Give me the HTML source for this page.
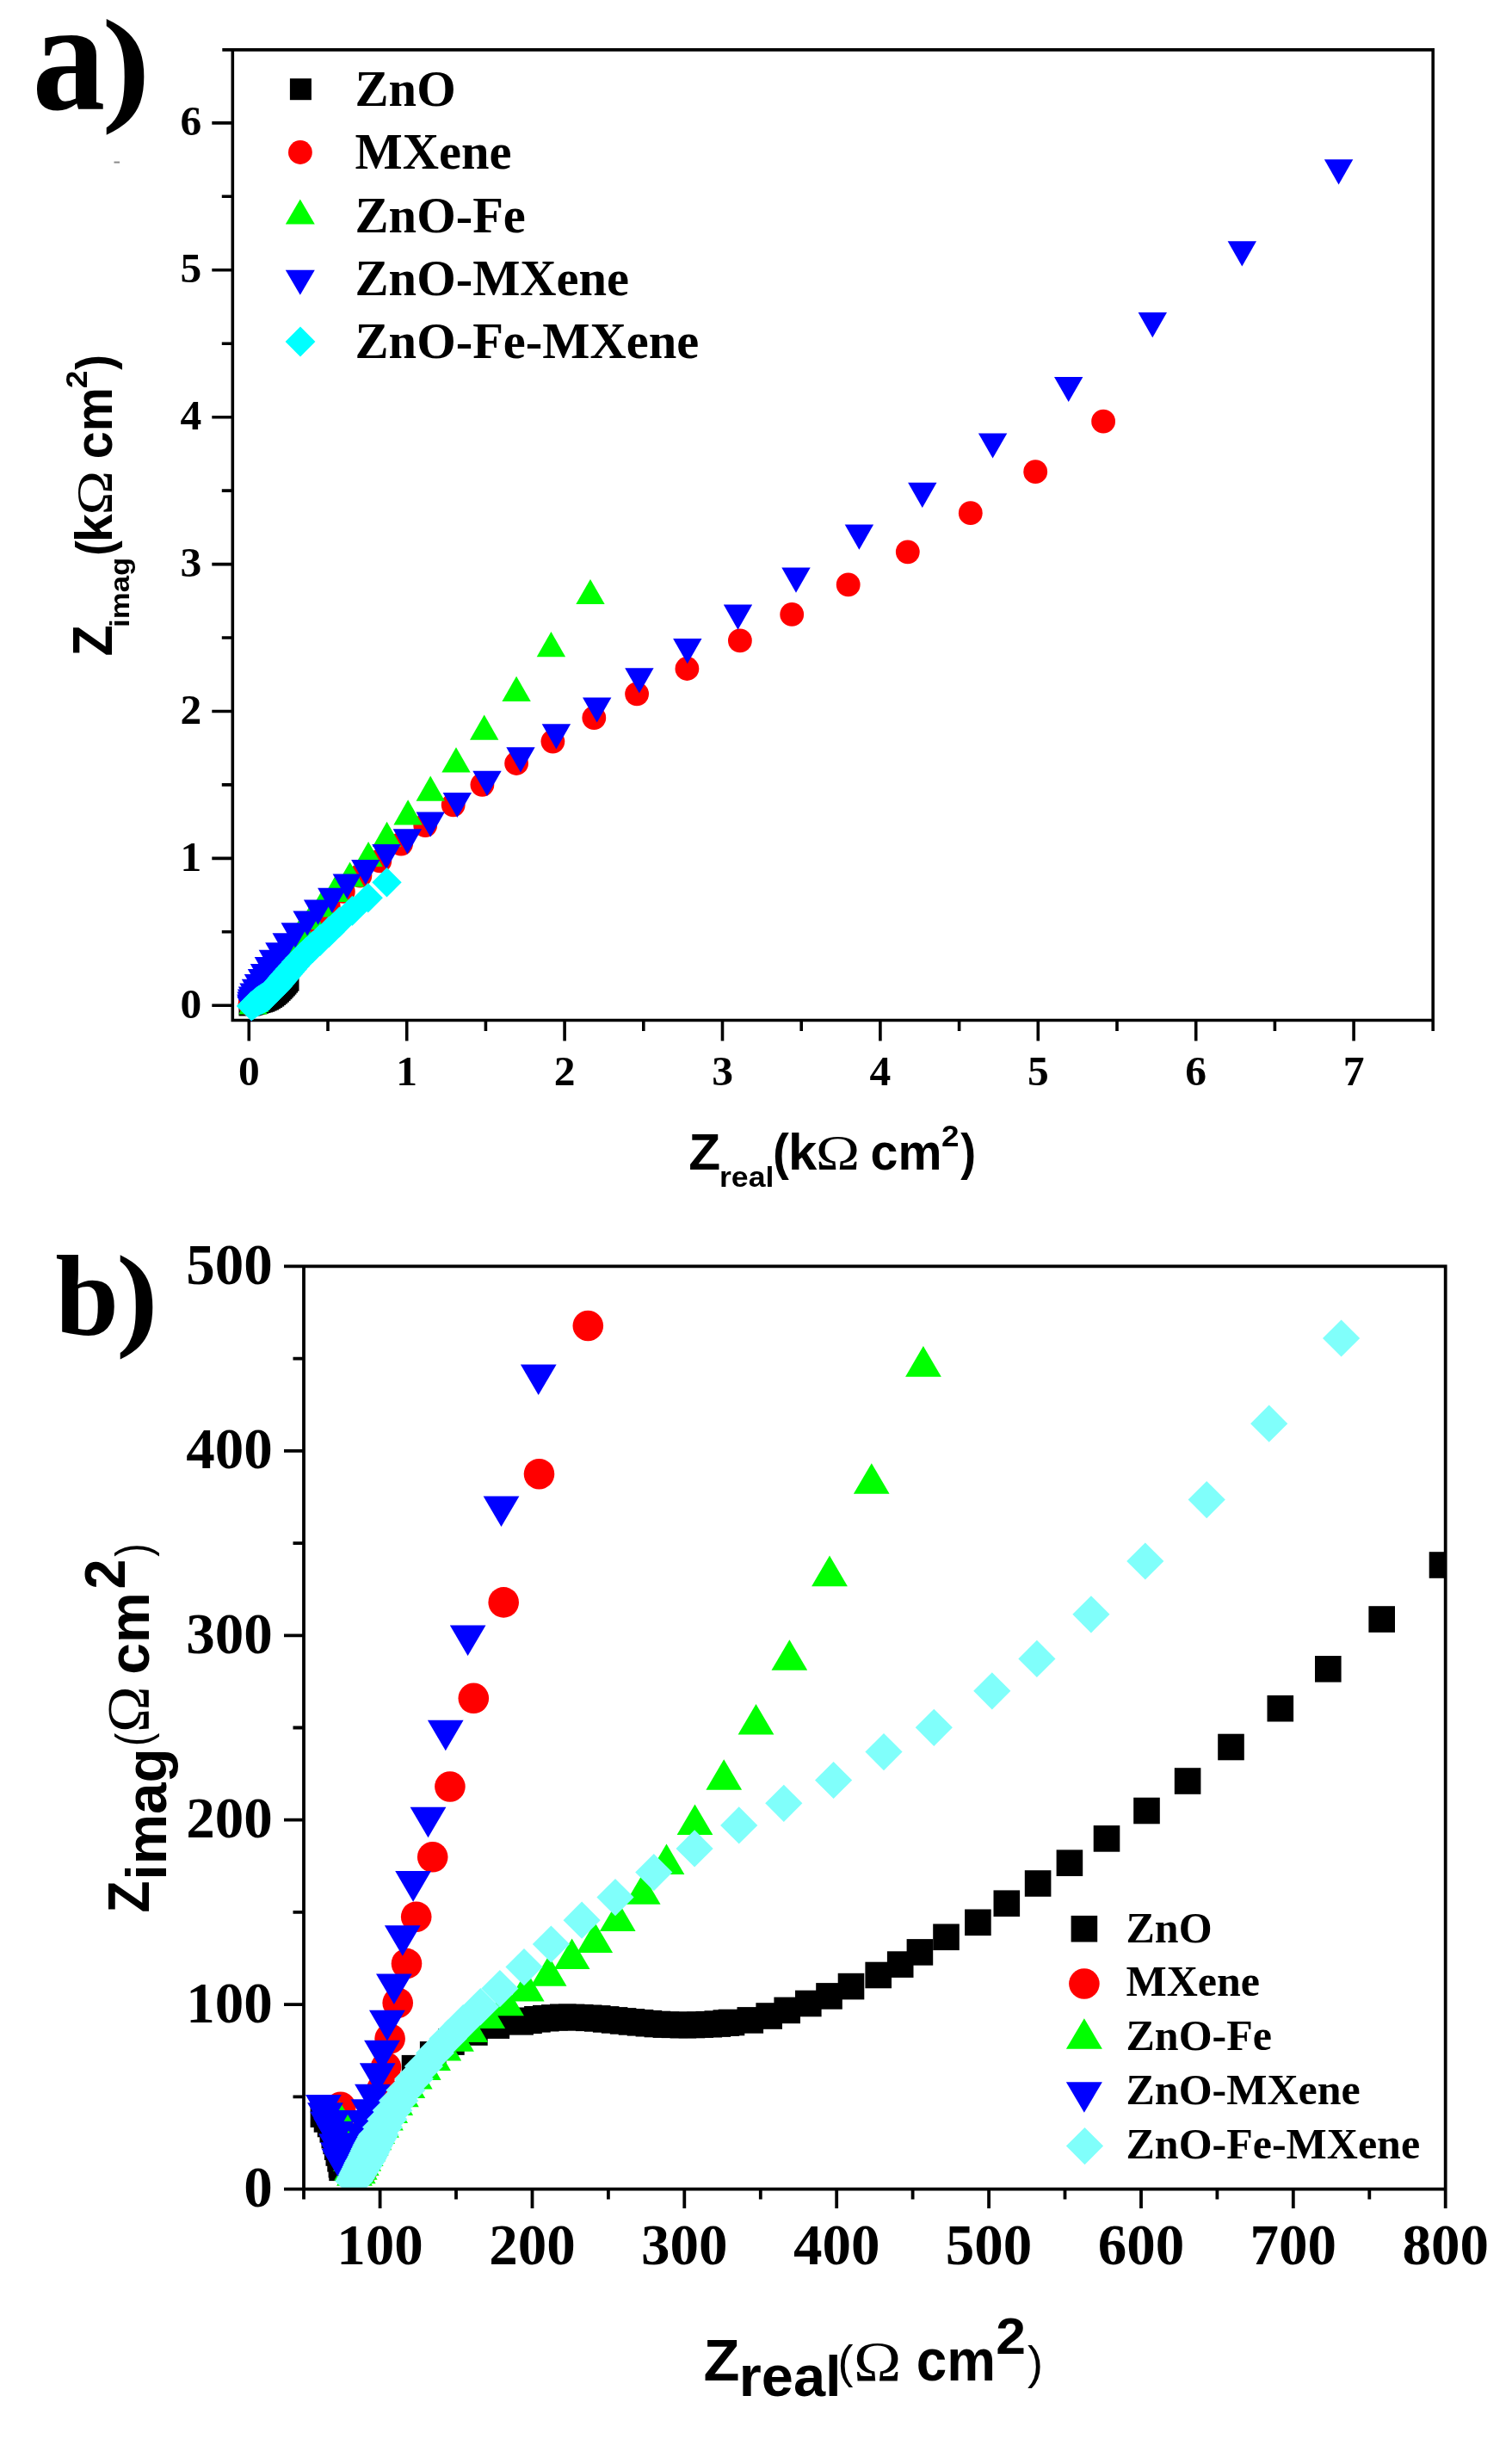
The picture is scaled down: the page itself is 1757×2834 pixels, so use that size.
<!DOCTYPE html>
<html lang="en"><head><meta charset="utf-8"><title>Nyquist plots</title>
<style>html,body{margin:0;padding:0;background:#fff}svg{display:block;filter:blur(0.6px)}text{fill:#000}</style>
</head><body>
<svg width="1757" height="2834" viewBox="0 0 1757 2834">
<rect width="1757" height="2834" fill="#fff"/>
<g id="panelA">
<path d="M258.3 57.9H1667M270.3 57.9V1187.3M268.5 1185.5H1667M1665.2 56.1V1198M246.3 1168.3H270.3M257.8 1082.8H270.3M246.3 997.4H270.3M257.8 911.9H270.3M246.3 826.5H270.3M257.8 741H270.3M246.3 655.6H270.3M257.8 570.1H270.3M246.3 484.7H270.3M257.8 399.2H270.3M246.3 313.8H270.3M257.8 228.3H270.3M246.3 142.9H270.3M289.3 1185.5V1209.5M381 1185.5V1198M472.7 1185.5V1209.5M564.4 1185.5V1198M656.1 1185.5V1209.5M747.8 1185.5V1198M839.5 1185.5V1209.5M931.2 1185.5V1198M1022.9 1185.5V1209.5M1114.6 1185.5V1198M1206.3 1185.5V1209.5M1298 1185.5V1198M1389.7 1185.5V1209.5M1481.4 1185.5V1198M1573.1 1185.5V1209.5" stroke="#000" stroke-width="3.6" fill="none"/>
<clipPath id="clipA"><rect x="268.3" y="57.9" width="1396.9" height="1131.6"/></clipPath>
<g clip-path="url(#clipA)">
<rect x="277.5" y="1155.5" width="25" height="25" fill="#000"/>
<rect x="279.9" y="1154.8" width="25" height="25" fill="#000"/>
<rect x="282.3" y="1154.2" width="25" height="25" fill="#000"/>
<rect x="284.7" y="1153.5" width="25" height="25" fill="#000"/>
<rect x="287.1" y="1152.8" width="25" height="25" fill="#000"/>
<rect x="289.5" y="1152.1" width="25" height="25" fill="#000"/>
<rect x="291.9" y="1151.4" width="25" height="25" fill="#000"/>
<rect x="294.3" y="1150.7" width="25" height="25" fill="#000"/>
<rect x="296.6" y="1149.6" width="25" height="25" fill="#000"/>
<rect x="298.9" y="1148.6" width="25" height="25" fill="#000"/>
<rect x="301" y="1147.3" width="25" height="25" fill="#000"/>
<rect x="303.1" y="1146" width="25" height="25" fill="#000"/>
<rect x="305.2" y="1144.6" width="25" height="25" fill="#000"/>
<rect x="307.1" y="1143" width="25" height="25" fill="#000"/>
<rect x="309.1" y="1141.4" width="25" height="25" fill="#000"/>
<rect x="310.9" y="1139.7" width="25" height="25" fill="#000"/>
<rect x="312.6" y="1137.9" width="25" height="25" fill="#000"/>
<rect x="314.4" y="1136.2" width="25" height="25" fill="#000"/>
<rect x="316.1" y="1134.3" width="25" height="25" fill="#000"/>
<rect x="317.8" y="1132.5" width="25" height="25" fill="#000"/>
<rect x="319.4" y="1130.6" width="25" height="25" fill="#000"/>
<rect x="321" y="1128.6" width="25" height="25" fill="#000"/>
<rect x="322.5" y="1126.7" width="25" height="25" fill="#000"/>
<circle cx="1282.1" cy="489.7" r="13.9" fill="#f00"/>
<circle cx="1203.2" cy="548.2" r="13.9" fill="#f00"/>
<circle cx="1127.8" cy="596.2" r="13.9" fill="#f00"/>
<circle cx="1054.8" cy="641.3" r="13.9" fill="#f00"/>
<circle cx="985.7" cy="679.4" r="13.9" fill="#f00"/>
<circle cx="920.2" cy="713.9" r="13.9" fill="#f00"/>
<circle cx="859.9" cy="744.4" r="13.9" fill="#f00"/>
<circle cx="798.4" cy="777" r="13.9" fill="#f00"/>
<circle cx="740.1" cy="806.3" r="13.9" fill="#f00"/>
<circle cx="690.3" cy="834.1" r="13.9" fill="#f00"/>
<circle cx="642.4" cy="861.6" r="13.9" fill="#f00"/>
<circle cx="600.1" cy="887" r="13.9" fill="#f00"/>
<circle cx="560.4" cy="911.8" r="13.9" fill="#f00"/>
<circle cx="526.7" cy="935.3" r="13.9" fill="#f00"/>
<circle cx="494.2" cy="959.1" r="13.9" fill="#f00"/>
<circle cx="466.1" cy="980.6" r="13.9" fill="#f00"/>
<circle cx="441.3" cy="1000.4" r="13.9" fill="#f00"/>
<circle cx="418.4" cy="1017.6" r="13.9" fill="#f00"/>
<circle cx="398.8" cy="1035.9" r="13.9" fill="#f00"/>
<circle cx="381.7" cy="1052.9" r="13.9" fill="#f00"/>
<circle cx="367.2" cy="1068.2" r="13.9" fill="#f00"/>
<circle cx="353.8" cy="1083.5" r="13.9" fill="#f00"/>
<circle cx="341.7" cy="1098.3" r="13.9" fill="#f00"/>
<circle cx="332.5" cy="1109.8" r="13.9" fill="#f00"/>
<circle cx="324.6" cy="1119.5" r="13.9" fill="#f00"/>
<circle cx="318.4" cy="1127.9" r="13.9" fill="#f00"/>
<circle cx="313.4" cy="1136.1" r="13.9" fill="#f00"/>
<circle cx="309.5" cy="1143" r="13.9" fill="#f00"/>
<circle cx="306" cy="1149" r="13.9" fill="#f00"/>
<circle cx="302.5" cy="1155" r="13.9" fill="#f00"/>
<circle cx="299.8" cy="1160.2" r="13.9" fill="#f00"/>
<circle cx="290.5" cy="1167" r="13.9" fill="#f00"/>
<path d="M686 672.9L702.7 702.1L669.3 702.1Z" fill="#0f0"/>
<path d="M640.4 734L657.1 763.2L623.7 763.2Z" fill="#0f0"/>
<path d="M600.1 785.8L616.8 815L583.4 815Z" fill="#0f0"/>
<path d="M562.7 830.6L579.4 859.8L546 859.8Z" fill="#0f0"/>
<path d="M530 868.3L546.7 897.5L513.3 897.5Z" fill="#0f0"/>
<path d="M500.2 901.5L516.9 930.7L483.5 930.7Z" fill="#0f0"/>
<path d="M474.1 929.3L490.8 958.5L457.4 958.5Z" fill="#0f0"/>
<path d="M449.6 954.8L466.3 984L432.9 984Z" fill="#0f0"/>
<path d="M428.1 977.9L444.8 1007.1L411.4 1007.1Z" fill="#0f0"/>
<path d="M406.6 1001.4L423.3 1030.6L389.9 1030.6Z" fill="#0f0"/>
<path d="M389 1018.8L405.7 1048L372.3 1048Z" fill="#0f0"/>
<path d="M373 1036.4L389.7 1065.6L356.3 1065.6Z" fill="#0f0"/>
<path d="M360.8 1050.9L377.5 1080.1L344.1 1080.1Z" fill="#0f0"/>
<path d="M350.2 1063.9L366.9 1093.1L333.5 1093.1Z" fill="#0f0"/>
<path d="M341.4 1075.7L358.1 1104.9L324.7 1104.9Z" fill="#0f0"/>
<path d="M333.8 1086.2L350.5 1115.4L317.1 1115.4Z" fill="#0f0"/>
<path d="M327.5 1095.7L344.2 1124.9L310.8 1124.9Z" fill="#0f0"/>
<path d="M321.9 1104L338.6 1133.2L305.2 1133.2Z" fill="#0f0"/>
<path d="M317.3 1111.5L334 1140.7L300.6 1140.7Z" fill="#0f0"/>
<path d="M313.3 1118.2L330 1147.4L296.6 1147.4Z" fill="#0f0"/>
<path d="M309.8 1124L326.5 1153.2L293.1 1153.2Z" fill="#0f0"/>
<path d="M306.7 1129.2L323.4 1158.4L290 1158.4Z" fill="#0f0"/>
<path d="M304 1133.7L320.7 1162.9L287.3 1162.9Z" fill="#0f0"/>
<path d="M301.6 1137.7L318.3 1166.9L284.9 1166.9Z" fill="#0f0"/>
<path d="M299.5 1141.2L316.2 1170.4L282.8 1170.4Z" fill="#0f0"/>
<path d="M297.5 1144.2L314.2 1173.4L280.8 1173.4Z" fill="#0f0"/>
<path d="M295.7 1146.9L312.4 1176.1L279 1176.1Z" fill="#0f0"/>
<path d="M294 1149.4L310.7 1178.6L277.3 1178.6Z" fill="#0f0"/>
<path d="M1538.9 185.2L1572.3 185.2L1555.6 214.4Z" fill="#00f"/>
<path d="M1426.6 280.2L1460 280.2L1443.3 309.4Z" fill="#00f"/>
<path d="M1322.6 363L1356 363L1339.3 392.2Z" fill="#00f"/>
<path d="M1225 437.9L1258.4 437.9L1241.7 467.1Z" fill="#00f"/>
<path d="M1136.9 503.4L1170.3 503.4L1153.6 532.6Z" fill="#00f"/>
<path d="M1055.1 560.8L1088.5 560.8L1071.8 590Z" fill="#00f"/>
<path d="M981.7 609.6L1015.1 609.6L998.4 638.8Z" fill="#00f"/>
<path d="M908.3 659.6L941.7 659.6L925 688.8Z" fill="#00f"/>
<path d="M840.8 702.5L874.2 702.5L857.5 731.7Z" fill="#00f"/>
<path d="M782.1 742L815.5 742L798.8 771.2Z" fill="#00f"/>
<path d="M726.2 776.3L759.6 776.3L742.9 805.5Z" fill="#00f"/>
<path d="M677 810.4L710.4 810.4L693.7 839.6Z" fill="#00f"/>
<path d="M629.7 841.2L663.1 841.2L646.4 870.4Z" fill="#00f"/>
<path d="M588.3 868.3L621.7 868.3L605 897.5Z" fill="#00f"/>
<path d="M549.3 895.7L582.7 895.7L566 924.9Z" fill="#00f"/>
<path d="M514.6 920.9L548 920.9L531.3 950.1Z" fill="#00f"/>
<path d="M483.5 943.4L516.9 943.4L500.2 972.6Z" fill="#00f"/>
<path d="M456.7 963.2L490.1 963.2L473.4 992.4Z" fill="#00f"/>
<path d="M432.3 980.9L465.7 980.9L449 1010.1Z" fill="#00f"/>
<path d="M408.1 999.1L441.5 999.1L424.8 1028.3Z" fill="#00f"/>
<path d="M386.6 1015.4L420 1015.4L403.3 1044.6Z" fill="#00f"/>
<path d="M369.1 1031.7L402.5 1031.7L385.8 1060.9Z" fill="#00f"/>
<path d="M352.9 1045.6L386.3 1045.6L369.6 1074.8Z" fill="#00f"/>
<path d="M340.4 1058.4L373.8 1058.4L357.1 1087.6Z" fill="#00f"/>
<path d="M326.5 1072.3L359.9 1072.3L343.2 1101.5Z" fill="#00f"/>
<path d="M316.5 1084.2L349.9 1084.2L333.2 1113.4Z" fill="#00f"/>
<path d="M308.2 1095.2L341.6 1095.2L324.9 1124.4Z" fill="#00f"/>
<path d="M300.7 1103.7L334.1 1103.7L317.4 1132.9Z" fill="#00f"/>
<path d="M295.7 1112L329.1 1112L312.4 1141.2Z" fill="#00f"/>
<path d="M290.8 1120L324.2 1120L307.5 1149.2Z" fill="#00f"/>
<path d="M287.8 1125.9L321.2 1125.9L304.5 1155.1Z" fill="#00f"/>
<path d="M283.8 1131.9L317.2 1131.9L300.5 1161.1Z" fill="#00f"/>
<path d="M280.8 1137.8L314.2 1137.8L297.5 1167Z" fill="#00f"/>
<path d="M278.3 1142.4L311.7 1142.4L295 1171.6Z" fill="#00f"/>
<path d="M276.8 1146.4L310.2 1146.4L293.5 1175.6Z" fill="#00f"/>
<path d="M275.8 1149.4L309.2 1149.4L292.5 1178.6Z" fill="#00f"/>
<path d="M275.3 1152.4L308.7 1152.4L292 1181.6Z" fill="#00f"/>
<path d="M275.1 1155.4L308.5 1155.4L291.8 1184.6Z" fill="#00f"/>
<path d="M275.3 1157.8L308.7 1157.8L292 1187Z" fill="#00f"/>
<path d="M449.5 1008.1L466.7 1025.3L449.5 1042.5L432.3 1025.3Z" fill="#0ff"/>
<path d="M427.7 1026L444.9 1043.2L427.7 1060.4L410.5 1043.2Z" fill="#0ff"/>
<path d="M409.4 1040.7L427 1058.2L409.4 1075.8L391.9 1058.2Z" fill="#0ff"/>
<path d="M394.4 1053.4L412.3 1071.3L394.4 1089.2L376.5 1071.3Z" fill="#0ff"/>
<path d="M382.3 1064.6L400.6 1082.9L382.3 1101.1L364.1 1082.9Z" fill="#0ff"/>
<path d="M372 1073.7L390.6 1092.3L372 1110.9L353.4 1092.3Z" fill="#0ff"/>
<path d="M363.3 1081.7L381.9 1100.3L363.3 1118.9L344.7 1100.3Z" fill="#0ff"/>
<path d="M356.1 1088.5L374.7 1107.1L356.1 1125.7L337.5 1107.1Z" fill="#0ff"/>
<path d="M350.1 1094.3L368.7 1112.9L350.1 1131.5L331.5 1112.9Z" fill="#0ff"/>
<path d="M345.4 1099.4L364 1118L345.4 1136.6L326.8 1118Z" fill="#0ff"/>
<path d="M341.5 1103.8L360.1 1122.4L341.5 1141L322.9 1122.4Z" fill="#0ff"/>
<path d="M338.2 1107.6L356.8 1126.2L338.2 1144.8L319.6 1126.2Z" fill="#0ff"/>
<path d="M335.5 1110.7L354.1 1129.3L335.5 1147.9L316.9 1129.3Z" fill="#0ff"/>
<path d="M333.2 1113.3L351.8 1131.9L333.2 1150.5L314.6 1131.9Z" fill="#0ff"/>
<path d="M331.3 1115.5L349.9 1134.1L331.3 1152.7L312.7 1134.1Z" fill="#0ff"/>
<path d="M329.9 1117.2L348.5 1135.8L329.9 1154.4L311.3 1135.8Z" fill="#0ff"/>
<path d="M328.5 1118.9L347.1 1137.5L328.5 1156.1L309.9 1137.5Z" fill="#0ff"/>
<path d="M327.1 1120.6L345.7 1139.2L327.1 1157.8L308.5 1139.2Z" fill="#0ff"/>
<path d="M325.6 1122.2L344.2 1140.8L325.6 1159.4L307 1140.8Z" fill="#0ff"/>
<path d="M324.2 1123.9L342.8 1142.5L324.2 1161.1L305.6 1142.5Z" fill="#0ff"/>
<path d="M322.8 1125.6L341.4 1144.2L322.8 1162.8L304.2 1144.2Z" fill="#0ff"/>
<path d="M321.4 1127.3L340 1145.9L321.4 1164.5L302.8 1145.9Z" fill="#0ff"/>
<path d="M319.9 1128.9L338.5 1147.5L319.9 1166.1L301.3 1147.5Z" fill="#0ff"/>
<path d="M318.4 1130.5L337 1149.1L318.4 1167.7L299.8 1149.1Z" fill="#0ff"/>
<path d="M316.9 1132.1L335.5 1150.7L316.9 1169.3L298.3 1150.7Z" fill="#0ff"/>
<path d="M315.3 1133.6L333.9 1152.2L315.3 1170.8L296.7 1152.2Z" fill="#0ff"/>
<path d="M313.8 1135.2L332.4 1153.8L313.8 1172.4L295.2 1153.8Z" fill="#0ff"/>
<path d="M312.2 1136.7L330.8 1155.3L312.2 1173.9L293.6 1155.3Z" fill="#0ff"/>
<path d="M310.6 1138.4L329.1 1156.9L310.6 1175.4L292.1 1156.9Z" fill="#0ff"/>
<path d="M308.8 1139.7L327.2 1158.1L308.8 1176.5L290.4 1158.1Z" fill="#0ff"/>
<path d="M306.9 1140.9L325.2 1159.2L306.9 1177.5L288.6 1159.2Z" fill="#0ff"/>
<path d="M305 1142.1L323.1 1160.3L305 1178.4L286.8 1160.3Z" fill="#0ff"/>
<path d="M303.1 1143.3L321.1 1161.3L303.1 1179.4L285 1161.3Z" fill="#0ff"/>
<path d="M301.1 1144.5L319.1 1162.4L301.1 1180.3L283.2 1162.4Z" fill="#0ff"/>
<path d="M299.3 1145.8L317.1 1163.6L299.3 1181.4L281.5 1163.6Z" fill="#0ff"/>
<path d="M297.5 1147.2L315.2 1164.9L297.5 1182.6L279.9 1164.9Z" fill="#0ff"/>
<path d="M295.8 1148.7L313.4 1166.3L295.8 1183.8L278.3 1166.3Z" fill="#0ff"/>
<path d="M294.1 1150.2L311.5 1167.6L294.1 1185.1L276.6 1167.6Z" fill="#0ff"/>
<path d="M292.3 1151.6L309.7 1169L292.3 1186.3L275 1169Z" fill="#0ff"/>
<path d="M292.3 1151.8L309.5 1169L292.3 1186.2L275.1 1169Z" fill="#0ff"/>
</g>
<g font-family="'Liberation Serif','DejaVu Serif',serif" font-weight="bold" font-size="49.5">
<text x="234.3" y="1182.5" text-anchor="end">0</text>
<text x="234.3" y="1011.6" text-anchor="end">1</text>
<text x="234.3" y="840.7" text-anchor="end">2</text>
<text x="234.3" y="669.8" text-anchor="end">3</text>
<text x="234.3" y="498.9" text-anchor="end">4</text>
<text x="234.3" y="328" text-anchor="end">5</text>
<text x="234.3" y="157.1" text-anchor="end">6</text>
<text x="289.3" y="1260.7" text-anchor="middle">0</text>
<text x="472.7" y="1260.7" text-anchor="middle">1</text>
<text x="656.1" y="1260.7" text-anchor="middle">2</text>
<text x="839.5" y="1260.7" text-anchor="middle">3</text>
<text x="1022.9" y="1260.7" text-anchor="middle">4</text>
<text x="1206.3" y="1260.7" text-anchor="middle">5</text>
<text x="1389.7" y="1260.7" text-anchor="middle">6</text>
<text x="1573.1" y="1260.7" text-anchor="middle">7</text>
</g>
<rect x="336.9" y="91.2" width="25" height="25" fill="#000"/>
<circle cx="348.9" cy="177" r="13.9" fill="#f00"/>
<path d="M348.8 231.5L365.8 260.5L331.8 260.5Z" fill="#0f0"/>
<path d="M331.8 313.7L365.8 313.7L348.8 342.7Z" fill="#00f"/>
<path d="M349 379.6L366.4 397L349 414.4L331.6 397Z" fill="#0ff"/>
<g font-family="'Liberation Serif','DejaVu Serif',serif" font-weight="bold" font-size="58.5">
<text x="412.6" y="122.7">ZnO</text>
<text x="412.6" y="196.1">MXene</text>
<text x="412.6" y="269.5">ZnO-Fe</text>
<text x="412.6" y="342.9">ZnO-MXene</text>
<text x="412.6" y="415.7">ZnO-Fe-MXene</text>
</g>
<text x="37.59" y="126.60" font-family="'Liberation Serif','DejaVu Serif',serif" font-weight="bold" font-size="182" textLength="84.75" lengthAdjust="spacingAndGlyphs">a</text>
<text x="118.28" y="125.20" font-family="'Liberation Serif','DejaVu Serif',serif" font-weight="bold" font-size="148.7" textLength="56.51" lengthAdjust="spacingAndGlyphs">)</text>
<rect x="132.5" y="187.6" width="6.5" height="2" fill="#8a8a8a"/>
<text x="800.29" y="1359.10" font-family="'Liberation Sans','DejaVu Sans',sans-serif" font-weight="bold" font-size="60" textLength="36.93" lengthAdjust="spacingAndGlyphs">Z</text>
<text x="835.98" y="1379.20" font-family="'Liberation Sans','DejaVu Sans',sans-serif" font-weight="bold" font-size="33" textLength="63.39" lengthAdjust="spacingAndGlyphs">real</text>
<text x="898.07" y="1359.30" font-family="'Liberation Sans','DejaVu Sans',sans-serif" font-weight="bold" font-size="60" textLength="18.86" lengthAdjust="spacingAndGlyphs">(</text>
<text x="916.11" y="1359.10" font-family="'Liberation Sans','DejaVu Sans',sans-serif" font-weight="bold" font-size="60" textLength="33.31" lengthAdjust="spacingAndGlyphs">k</text>
<text x="947.99" y="1359.10" font-family="'Liberation Serif','DejaVu Serif',serif" font-weight="normal" font-size="57" textLength="51.09" lengthAdjust="spacingAndGlyphs">Ω</text>
<text x="1011.51" y="1359.10" font-family="'Liberation Sans','DejaVu Sans',sans-serif" font-weight="bold" font-size="60" textLength="82.90" lengthAdjust="spacingAndGlyphs">cm</text>
<text x="1094.01" y="1331.50" font-family="'Liberation Sans','DejaVu Sans',sans-serif" font-weight="bold" font-size="34.5" textLength="20.52" lengthAdjust="spacingAndGlyphs">2</text>
<text x="1116.17" y="1359.30" font-family="'Liberation Sans','DejaVu Sans',sans-serif" font-weight="bold" font-size="60" textLength="17.84" lengthAdjust="spacingAndGlyphs">)</text>
<text transform="rotate(-90)" x="-762.58" y="130.10" font-family="'Liberation Sans','DejaVu Sans',sans-serif" font-weight="bold" font-size="64" textLength="36.26" lengthAdjust="spacingAndGlyphs">Z</text>
<text transform="rotate(-90)" x="-728.93" y="149.60" font-family="'Liberation Sans','DejaVu Sans',sans-serif" font-weight="bold" font-size="32" textLength="81.15" lengthAdjust="spacingAndGlyphs">imag</text>
<text transform="rotate(-90)" x="-645.72" y="129.80" font-family="'Liberation Sans','DejaVu Sans',sans-serif" font-weight="bold" font-size="60" textLength="17.45" lengthAdjust="spacingAndGlyphs">(</text>
<text transform="rotate(-90)" x="-630.15" y="130.10" font-family="'Liberation Sans','DejaVu Sans',sans-serif" font-weight="bold" font-size="62" textLength="32.97" lengthAdjust="spacingAndGlyphs">k</text>
<text transform="rotate(-90)" x="-598.44" y="130.10" font-family="'Liberation Serif','DejaVu Serif',serif" font-weight="normal" font-size="60" textLength="51.56" lengthAdjust="spacingAndGlyphs">Ω</text>
<text transform="rotate(-90)" x="-533.20" y="130.10" font-family="'Liberation Sans','DejaVu Sans',sans-serif" font-weight="bold" font-size="62" textLength="83.01" lengthAdjust="spacingAndGlyphs">cm</text>
<text transform="rotate(-90)" x="-451.21" y="101.30" font-family="'Liberation Sans','DejaVu Sans',sans-serif" font-weight="bold" font-size="35.5" textLength="20.75" lengthAdjust="spacingAndGlyphs">2</text>
<text transform="rotate(-90)" x="-429.73" y="129.80" font-family="'Liberation Sans','DejaVu Sans',sans-serif" font-weight="bold" font-size="60" textLength="17.60" lengthAdjust="spacingAndGlyphs">)</text>
</g>
<g id="panelB">
<clipPath id="clipB"><rect x="353" y="1471.4" width="1326.7" height="1072.2"/></clipPath>
<g clip-path="url(#clipB)">
<rect x="360.6" y="2441.4" width="30.6" height="30.6" fill="#000"/>
<rect x="364.7" y="2447.1" width="30.6" height="30.6" fill="#000"/>
<rect x="368.8" y="2452.7" width="30.6" height="30.6" fill="#000"/>
<rect x="371.5" y="2459.1" width="30.6" height="30.6" fill="#000"/>
<rect x="373.5" y="2465.8" width="30.6" height="30.6" fill="#000"/>
<rect x="375.4" y="2472.6" width="30.6" height="30.6" fill="#000"/>
<rect x="376.9" y="2479.4" width="30.6" height="30.6" fill="#000"/>
<rect x="378.5" y="2486.2" width="30.6" height="30.6" fill="#000"/>
<rect x="380.3" y="2493" width="30.6" height="30.6" fill="#000"/>
<rect x="381.6" y="2499.9" width="30.6" height="30.6" fill="#000"/>
<rect x="382.3" y="2503.5" width="30.6" height="30.6" fill="#000"/>
<rect x="466.7" y="2387.9" width="30.6" height="30.6" fill="#000"/>
<rect x="487.9" y="2372" width="30.6" height="30.6" fill="#000"/>
<rect x="509.1" y="2357.3" width="30.6" height="30.6" fill="#000"/>
<rect x="536.1" y="2346.2" width="30.6" height="30.6" fill="#000"/>
<rect x="561.5" y="2338.3" width="30.6" height="30.6" fill="#000"/>
<rect x="589.3" y="2334" width="30.6" height="30.6" fill="#000"/>
<rect x="599.2" y="2332.5" width="30.6" height="30.6" fill="#000"/>
<rect x="609.1" y="2331" width="30.6" height="30.6" fill="#000"/>
<rect x="619" y="2329.9" width="30.6" height="30.6" fill="#000"/>
<rect x="629" y="2329.2" width="30.6" height="30.6" fill="#000"/>
<rect x="639" y="2328.5" width="30.6" height="30.6" fill="#000"/>
<rect x="648.9" y="2328.6" width="30.6" height="30.6" fill="#000"/>
<rect x="658.9" y="2329" width="30.6" height="30.6" fill="#000"/>
<rect x="668.9" y="2329.5" width="30.6" height="30.6" fill="#000"/>
<rect x="678.9" y="2330.1" width="30.6" height="30.6" fill="#000"/>
<rect x="688.9" y="2331.1" width="30.6" height="30.6" fill="#000"/>
<rect x="698.8" y="2332.1" width="30.6" height="30.6" fill="#000"/>
<rect x="708.8" y="2333.1" width="30.6" height="30.6" fill="#000"/>
<rect x="718.7" y="2334.1" width="30.6" height="30.6" fill="#000"/>
<rect x="728.7" y="2335" width="30.6" height="30.6" fill="#000"/>
<rect x="738.6" y="2335.9" width="30.6" height="30.6" fill="#000"/>
<rect x="748.6" y="2336.7" width="30.6" height="30.6" fill="#000"/>
<rect x="758.6" y="2337.3" width="30.6" height="30.6" fill="#000"/>
<rect x="768.6" y="2337.5" width="30.6" height="30.6" fill="#000"/>
<rect x="778.6" y="2337.8" width="30.6" height="30.6" fill="#000"/>
<rect x="788.6" y="2337.7" width="30.6" height="30.6" fill="#000"/>
<rect x="798.5" y="2337.3" width="30.6" height="30.6" fill="#000"/>
<rect x="808.5" y="2336.9" width="30.6" height="30.6" fill="#000"/>
<rect x="818.5" y="2336.3" width="30.6" height="30.6" fill="#000"/>
<rect x="828.5" y="2335.3" width="30.6" height="30.6" fill="#000"/>
<rect x="834.7" y="2334.7" width="30.6" height="30.6" fill="#000"/>
<rect x="856.5" y="2332.1" width="30.6" height="30.6" fill="#000"/>
<rect x="878.4" y="2327.2" width="30.6" height="30.6" fill="#000"/>
<rect x="899.4" y="2320.6" width="30.6" height="30.6" fill="#000"/>
<rect x="924" y="2312.7" width="30.6" height="30.6" fill="#000"/>
<rect x="948.2" y="2304.1" width="30.6" height="30.6" fill="#000"/>
<rect x="973.7" y="2292.8" width="30.6" height="30.6" fill="#000"/>
<rect x="1005.4" y="2279.7" width="30.6" height="30.6" fill="#000"/>
<rect x="1030.9" y="2267.3" width="30.6" height="30.6" fill="#000"/>
<rect x="1053.6" y="2253.1" width="30.6" height="30.6" fill="#000"/>
<rect x="1084.2" y="2235.5" width="30.6" height="30.6" fill="#000"/>
<rect x="1121.1" y="2218.5" width="30.6" height="30.6" fill="#000"/>
<rect x="1154.5" y="2196.4" width="30.6" height="30.6" fill="#000"/>
<rect x="1190.8" y="2173.2" width="30.6" height="30.6" fill="#000"/>
<rect x="1227.6" y="2149.4" width="30.6" height="30.6" fill="#000"/>
<rect x="1270.7" y="2121.1" width="30.6" height="30.6" fill="#000"/>
<rect x="1317.2" y="2088.7" width="30.6" height="30.6" fill="#000"/>
<rect x="1364.8" y="2054.2" width="30.6" height="30.6" fill="#000"/>
<rect x="1415.2" y="2014.7" width="30.6" height="30.6" fill="#000"/>
<rect x="1472.5" y="1969.9" width="30.6" height="30.6" fill="#000"/>
<rect x="1528" y="1924" width="30.6" height="30.6" fill="#000"/>
<rect x="1590.4" y="1866.2" width="30.6" height="30.6" fill="#000"/>
<rect x="1660.7" y="1803.2" width="30.6" height="30.6" fill="#000"/>
<circle cx="683.3" cy="1540.5" r="17.8" fill="#f00"/>
<circle cx="626.5" cy="1712.7" r="17.8" fill="#f00"/>
<circle cx="585.2" cy="1861.9" r="17.8" fill="#f00"/>
<circle cx="550.3" cy="1973.3" r="17.8" fill="#f00"/>
<circle cx="522.9" cy="2076" r="17.8" fill="#f00"/>
<circle cx="502.7" cy="2157.8" r="17.8" fill="#f00"/>
<circle cx="483.7" cy="2227.2" r="17.8" fill="#f00"/>
<circle cx="472.5" cy="2281.6" r="17.8" fill="#f00"/>
<circle cx="462.2" cy="2327.2" r="17.8" fill="#f00"/>
<circle cx="453.1" cy="2368.9" r="17.8" fill="#f00"/>
<circle cx="448.5" cy="2402" r="17.8" fill="#f00"/>
<circle cx="443.8" cy="2427.6" r="17.8" fill="#f00"/>
<circle cx="439.3" cy="2449.5" r="17.8" fill="#f00"/>
<circle cx="434.9" cy="2468.2" r="17.8" fill="#f00"/>
<circle cx="430.9" cy="2484.2" r="17.8" fill="#f00"/>
<circle cx="427.3" cy="2498" r="17.8" fill="#f00"/>
<circle cx="423.9" cy="2509.7" r="17.8" fill="#f00"/>
<circle cx="421.2" cy="2519.9" r="17.8" fill="#f00"/>
<circle cx="420.5" cy="2523" r="17.8" fill="#f00"/>
<circle cx="414" cy="2517" r="17.8" fill="#f00"/>
<circle cx="408" cy="2503" r="17.8" fill="#f00"/>
<circle cx="402" cy="2482" r="17.8" fill="#f00"/>
<circle cx="395.8" cy="2448.3" r="17.8" fill="#f00"/>
<path d="M1072.9 1564.1L1093.8 1599.7L1052.1 1599.7Z" fill="#0f0"/>
<path d="M1012.8 1700.2L1033.6 1735.8L991.9 1735.8Z" fill="#0f0"/>
<path d="M964 1807.6L984.9 1843.2L943.1 1843.2Z" fill="#0f0"/>
<path d="M917.4 1905.2L938.2 1940.8L896.5 1940.8Z" fill="#0f0"/>
<path d="M878.5 1979.9L899.4 2015.5L857.6 2015.5Z" fill="#0f0"/>
<path d="M841.2 2044.2L862.1 2079.8L820.4 2079.8Z" fill="#0f0"/>
<path d="M807.5 2096.5L828.4 2132.1L786.6 2132.1Z" fill="#0f0"/>
<path d="M774.5 2142.4L795.4 2178L753.6 2178Z" fill="#0f0"/>
<path d="M746.7 2177.2L767.6 2212.8L725.9 2212.8Z" fill="#0f0"/>
<path d="M717.8 2208.4L738.6 2244L696.9 2244Z" fill="#0f0"/>
<path d="M691.2 2233.4L712.1 2269L670.4 2269Z" fill="#0f0"/>
<path d="M664.6 2252.5L685.5 2288.1L643.8 2288.1Z" fill="#0f0"/>
<path d="M637.6 2272.2L658.5 2307.8L616.8 2307.8Z" fill="#0f0"/>
<path d="M611.8 2289.8L632.6 2325.4L590.9 2325.4Z" fill="#0f0"/>
<path d="M588 2306.7L608.9 2342.3L567.1 2342.3Z" fill="#0f0"/>
<path d="M566.2 2321.5L587.1 2357.1L545.4 2357.1Z" fill="#0f0"/>
<path d="M546.3 2337.4L567.1 2373L525.4 2373Z" fill="#0f0"/>
<path d="M530 2348.2L550.9 2383.8L509.2 2383.8Z" fill="#0f0"/>
<path d="M515.4 2358.8L536.2 2394.4L494.5 2394.4Z" fill="#0f0"/>
<path d="M503 2370.3L523.9 2405.9L482.2 2405.9Z" fill="#0f0"/>
<path d="M491.8 2381.3L512.6 2416.9L470.9 2416.9Z" fill="#0f0"/>
<path d="M481.8 2391.8L502.6 2427.4L460.9 2427.4Z" fill="#0f0"/>
<path d="M473.3 2402.4L494.2 2438L452.5 2438Z" fill="#0f0"/>
<path d="M466 2412.7L486.8 2448.3L445.1 2448.3Z" fill="#0f0"/>
<path d="M459.3 2422.3L480.1 2457.9L438.4 2457.9Z" fill="#0f0"/>
<path d="M453.2 2431.4L474 2467L432.3 2467Z" fill="#0f0"/>
<path d="M447.9 2440L468.8 2475.6L427.1 2475.6Z" fill="#0f0"/>
<path d="M443.1 2448.1L463.9 2483.7L422.2 2483.7Z" fill="#0f0"/>
<path d="M438.2 2455.4L459 2491L417.3 2491Z" fill="#0f0"/>
<path d="M434.3 2462.6L455.2 2498.2L413.5 2498.2Z" fill="#0f0"/>
<path d="M430.6 2469.2L451.5 2504.8L409.8 2504.8Z" fill="#0f0"/>
<path d="M427.5 2475.6L448.3 2511.2L406.6 2511.2Z" fill="#0f0"/>
<path d="M424.8 2481.5L445.6 2517.1L403.9 2517.1Z" fill="#0f0"/>
<path d="M422.2 2487.1L443.1 2522.7L401.4 2522.7Z" fill="#0f0"/>
<path d="M419.9 2492.3L440.7 2527.9L399 2527.9Z" fill="#0f0"/>
<path d="M417.7 2497.1L438.6 2532.7L396.9 2532.7Z" fill="#0f0"/>
<path d="M415.7 2501.6L436.6 2537.2L394.9 2537.2Z" fill="#0f0"/>
<path d="M412 2504.2L432.9 2539.8L391.1 2539.8Z" fill="#0f0"/>
<path d="M409 2498.2L429.9 2533.8L388.1 2533.8Z" fill="#0f0"/>
<path d="M408 2487.2L428.9 2522.8L387.1 2522.8Z" fill="#0f0"/>
<path d="M407 2472.2L427.9 2507.8L386.1 2507.8Z" fill="#0f0"/>
<path d="M404.1 2457.1L425 2492.7L383.2 2492.7Z" fill="#0f0"/>
<path d="M395 2442.1L415.9 2477.7L374.1 2477.7Z" fill="#0f0"/>
<path d="M604.9 1585.4L646.6 1585.4L625.7 1621Z" fill="#00f"/>
<path d="M561.6 1738.5L603.4 1738.5L582.5 1774.1Z" fill="#00f"/>
<path d="M522.8 1888.5L564.5 1888.5L543.6 1924.1Z" fill="#00f"/>
<path d="M496.9 1998.7L538.6 1998.7L517.8 2034.3Z" fill="#00f"/>
<path d="M476.6 2099.7L518.4 2099.7L497.5 2135.3Z" fill="#00f"/>
<path d="M459.2 2174.1L501 2174.1L480.1 2209.7Z" fill="#00f"/>
<path d="M446.9 2237.2L488.7 2237.2L467.8 2272.8Z" fill="#00f"/>
<path d="M437 2293.4L478.8 2293.4L457.9 2329Z" fill="#00f"/>
<path d="M429 2335.8L470.8 2335.8L449.9 2371.4Z" fill="#00f"/>
<path d="M423.1 2370.8L464.9 2370.8L444 2406.4Z" fill="#00f"/>
<path d="M417.8 2397.2L459.5 2397.2L438.6 2432.8Z" fill="#00f"/>
<path d="M412.1 2421.7L453.9 2421.7L433 2457.3Z" fill="#00f"/>
<path d="M407.6 2439.2L449.4 2439.2L428.5 2474.8Z" fill="#00f"/>
<path d="M403.6 2454.2L445.4 2454.2L424.5 2489.8Z" fill="#00f"/>
<path d="M400.1 2467.2L441.9 2467.2L421 2502.8Z" fill="#00f"/>
<path d="M396.6 2478.2L438.4 2478.2L417.5 2513.8Z" fill="#00f"/>
<path d="M393.1 2488.2L434.9 2488.2L414 2523.8Z" fill="#00f"/>
<path d="M390.1 2496.2L431.9 2496.2L411 2531.8Z" fill="#00f"/>
<path d="M387.1 2501.2L428.9 2501.2L408 2536.8Z" fill="#00f"/>
<path d="M382.1 2503.2L423.9 2503.2L403 2538.8Z" fill="#00f"/>
<path d="M377.1 2501.7L418.9 2501.7L398 2537.3Z" fill="#00f"/>
<path d="M373.6 2496.7L415.4 2496.7L394.5 2532.3Z" fill="#00f"/>
<path d="M372.1 2489.2L413.9 2489.2L393 2524.8Z" fill="#00f"/>
<path d="M370.1 2479.2L411.9 2479.2L391 2514.8Z" fill="#00f"/>
<path d="M367.6 2467.4L409.4 2467.4L388.5 2503Z" fill="#00f"/>
<path d="M364.1 2461.2L405.9 2461.2L385 2496.8Z" fill="#00f"/>
<path d="M360.1 2453.4L401.9 2453.4L381 2489Z" fill="#00f"/>
<path d="M377.1 2452L418.9 2452L398 2487.6Z" fill="#00f"/>
<path d="M357.1 2443.2L398.9 2443.2L378 2478.8Z" fill="#00f"/>
<path d="M355 2434.1L396.8 2434.1L375.9 2469.7Z" fill="#00f"/>
<path d="M404.1 2457.1L408.6 2464.7L399.6 2464.7Z" fill="#0f0"/>
<path d="M1558.6 1533.4L1580.2 1555L1558.6 1576.6L1537 1555Z" fill="#80fffb"/>
<path d="M1474.7 1632.6L1496.3 1654.2L1474.7 1675.8L1453.1 1654.2Z" fill="#80fffb"/>
<path d="M1402.2 1721L1423.8 1742.6L1402.2 1764.2L1380.6 1742.6Z" fill="#80fffb"/>
<path d="M1330.8 1792.4L1352.4 1814L1330.8 1835.6L1309.2 1814Z" fill="#80fffb"/>
<path d="M1267.9 1854.2L1289.5 1875.8L1267.9 1897.4L1246.3 1875.8Z" fill="#80fffb"/>
<path d="M1204.9 1905.8L1226.5 1927.4L1204.9 1949L1183.3 1927.4Z" fill="#80fffb"/>
<path d="M1152.8 1943.2L1174.4 1964.8L1152.8 1986.4L1131.2 1964.8Z" fill="#80fffb"/>
<path d="M1085.3 1985.7L1106.9 2007.3L1085.3 2028.9L1063.7 2007.3Z" fill="#80fffb"/>
<path d="M1027 2014L1048.6 2035.6L1027 2057.2L1005.4 2035.6Z" fill="#80fffb"/>
<path d="M968.6 2046.9L990.2 2068.5L968.6 2090.1L947 2068.5Z" fill="#80fffb"/>
<path d="M910.8 2073.7L932.4 2095.3L910.8 2116.9L889.2 2095.3Z" fill="#80fffb"/>
<path d="M858.7 2099.3L880.3 2120.9L858.7 2142.5L837.1 2120.9Z" fill="#80fffb"/>
<path d="M807.1 2126.3L828.7 2147.9L807.1 2169.5L785.5 2147.9Z" fill="#80fffb"/>
<path d="M759.8 2154L781.4 2175.6L759.8 2197.2L738.2 2175.6Z" fill="#80fffb"/>
<path d="M715 2183L736.6 2204.6L715 2226.2L693.4 2204.6Z" fill="#80fffb"/>
<path d="M676.1 2209.6L697.7 2231.2L676.1 2252.8L654.5 2231.2Z" fill="#80fffb"/>
<path d="M640.4 2237.4L662 2259L640.4 2280.6L618.8 2259Z" fill="#80fffb"/>
<path d="M609 2264L630.6 2285.6L609 2307.2L587.4 2285.6Z" fill="#80fffb"/>
<path d="M580.9 2289L602.5 2310.6L580.9 2332.2L559.3 2310.6Z" fill="#80fffb"/>
<path d="M558.3 2309.9L580.1 2331.7L558.3 2353.5L536.5 2331.7Z" fill="#80fffb"/>
<path d="M538.2 2329L560.2 2351L538.2 2373L516.2 2351Z" fill="#80fffb"/>
<path d="M520.6 2346.6L542.8 2368.8L520.6 2391L498.4 2368.8Z" fill="#80fffb"/>
<path d="M505.4 2363.1L527.8 2385.5L505.4 2407.9L483 2385.5Z" fill="#80fffb"/>
<path d="M492.4 2378.5L515 2401.1L492.4 2423.7L469.8 2401.1Z" fill="#80fffb"/>
<path d="M481 2392.6L503.8 2415.4L481 2438.2L458.2 2415.4Z" fill="#80fffb"/>
<path d="M471.4 2405.7L494.4 2428.7L471.4 2451.7L448.4 2428.7Z" fill="#80fffb"/>
<path d="M463.1 2417.7L486.3 2440.9L463.1 2464.1L439.9 2440.9Z" fill="#80fffb"/>
<path d="M456 2428.8L479.4 2452.2L456 2475.6L432.6 2452.2Z" fill="#80fffb"/>
<path d="M449.8 2438.8L473.4 2462.4L449.8 2486L426.2 2462.4Z" fill="#80fffb"/>
<path d="M444.6 2448.2L468.2 2471.8L444.6 2495.4L421 2471.8Z" fill="#80fffb"/>
<path d="M439.9 2456.7L463.5 2480.3L439.9 2503.9L416.3 2480.3Z" fill="#80fffb"/>
<path d="M438.6 2459L462.2 2482.6L438.6 2506.2L415 2482.6Z" fill="#80fffb"/>
<path d="M437.4 2461.3L461 2484.9L437.4 2508.5L413.8 2484.9Z" fill="#80fffb"/>
<path d="M436.1 2463.6L459.7 2487.2L436.1 2510.8L412.5 2487.2Z" fill="#80fffb"/>
<path d="M434.9 2465.9L458.5 2489.5L434.9 2513.1L411.3 2489.5Z" fill="#80fffb"/>
<path d="M433.7 2468.2L457.3 2491.8L433.7 2515.4L410.1 2491.8Z" fill="#80fffb"/>
<path d="M432.6 2470.5L456.2 2494.1L432.6 2517.7L409 2494.1Z" fill="#80fffb"/>
<path d="M431.5 2472.9L455.1 2496.5L431.5 2520.1L407.9 2496.5Z" fill="#80fffb"/>
<path d="M430.4 2475.2L454 2498.8L430.4 2522.4L406.8 2498.8Z" fill="#80fffb"/>
<path d="M429.3 2477.6L452.9 2501.2L429.3 2524.8L405.7 2501.2Z" fill="#80fffb"/>
<path d="M428.2 2480L451.8 2503.6L428.2 2527.2L404.6 2503.6Z" fill="#80fffb"/>
<path d="M427 2482.3L450.6 2505.9L427 2529.5L403.4 2505.9Z" fill="#80fffb"/>
<path d="M425.9 2484.6L449.5 2508.2L425.9 2531.8L402.3 2508.2Z" fill="#80fffb"/>
<path d="M424.6 2486.9L448.2 2510.5L424.6 2534.1L401 2510.5Z" fill="#80fffb"/>
<path d="M423.3 2489.3L446.8 2512.8L423.3 2536.3L399.8 2512.8Z" fill="#80fffb"/>
<path d="M422.1 2491.8L445.4 2515.1L422.1 2538.5L398.7 2515.1Z" fill="#80fffb"/>
<path d="M420.8 2494.2L444 2517.4L420.8 2540.6L397.6 2517.4Z" fill="#80fffb"/>
<path d="M419.5 2496.7L442.6 2519.7L419.5 2542.8L396.5 2519.7Z" fill="#80fffb"/>
<path d="M418.2 2499.1L441.1 2522L418.2 2544.9L395.3 2522Z" fill="#80fffb"/>
<path d="M416.9 2501.6L439.7 2524.3L416.9 2547.1L394.2 2524.3Z" fill="#80fffb"/>
<path d="M415.7 2504L438.3 2526.6L415.7 2549.2L393.1 2526.6Z" fill="#80fffb"/>
<path d="M414.4 2506.5L436.9 2528.9L414.4 2551.4L392 2528.9Z" fill="#80fffb"/>
<path d="M413.2 2509L435.5 2531.3L413.2 2553.6L390.9 2531.3Z" fill="#80fffb"/>
<path d="M411.9 2511.4L434 2533.6L411.9 2555.7L389.7 2533.6Z" fill="#80fffb"/>
<path d="M411.4 2512.4L433.4 2534.4L411.4 2556.4L389.4 2534.4Z" fill="#80fffb"/>
</g>
<path d="M330 1471.4H1681.6M353 1471.4V2555.6M330 2543.6H1681.6M1679.7 1469.5V2566.1M340.5 2436.4H353M330 2329.2H353M340.5 2221.9H353M330 2114.7H353M340.5 2007.5H353M330 1900.3H353M340.5 1793.1H353M330 1685.8H353M340.5 1578.6H353M441.6 2543.6V2566.1M530 2543.6V2555.6M618.5 2543.6V2566.1M706.9 2543.6V2555.6M795.3 2543.6V2566.1M883.8 2543.6V2555.6M972.2 2543.6V2566.1M1060.6 2543.6V2555.6M1149.1 2543.6V2566.1M1237.5 2543.6V2555.6M1326 2543.6V2566.1M1414.4 2543.6V2555.6M1502.8 2543.6V2566.1M1591.3 2543.6V2555.6" stroke="#000" stroke-width="3.8" fill="none"/>
<g font-family="'Liberation Serif','DejaVu Serif',serif" font-weight="bold" font-size="67">
<text x="316.8" y="2563.9" text-anchor="end">0</text>
<text x="316.8" y="2349.5" text-anchor="end">100</text>
<text x="316.8" y="2135" text-anchor="end">200</text>
<text x="316.8" y="1920.6" text-anchor="end">300</text>
<text x="316.8" y="1706.1" text-anchor="end">400</text>
<text x="316.8" y="1491.7" text-anchor="end">500</text>
<text x="441.6" y="2631" text-anchor="middle">100</text>
<text x="618.5" y="2631" text-anchor="middle">200</text>
<text x="795.3" y="2631" text-anchor="middle">300</text>
<text x="972.2" y="2631" text-anchor="middle">400</text>
<text x="1149.1" y="2631" text-anchor="middle">500</text>
<text x="1326" y="2631" text-anchor="middle">600</text>
<text x="1502.8" y="2631" text-anchor="middle">700</text>
<text x="1679.7" y="2631" text-anchor="middle">800</text>
</g>
<rect x="1244.6" y="2225.9" width="30.6" height="30.6" fill="#000"/>
<circle cx="1259.9" cy="2305" r="17.8" fill="#f00"/>
<path d="M1259.9 2345.2L1280.9 2380.8L1238.9 2380.8Z" fill="#0f0"/>
<path d="M1238.9 2419.2L1280.9 2419.2L1259.9 2454.8Z" fill="#00f"/>
<path d="M1260.5 2472L1282.1 2493.6L1260.5 2515.2L1238.9 2493.6Z" fill="#80fffb"/>
<g font-family="'Liberation Serif','DejaVu Serif',serif" font-weight="bold" font-size="50">
<text x="1308.5" y="2257">ZnO</text>
<text x="1308.5" y="2319.4">MXene</text>
<text x="1308.5" y="2381.8">ZnO-Fe</text>
<text x="1308.5" y="2445.3">ZnO-MXene</text>
<text x="1308.5" y="2507.6">ZnO-Fe-MXene</text>
</g>
<text x="64.14" y="1551.10" font-family="'Liberation Serif','DejaVu Serif',serif" font-weight="bold" font-size="133" textLength="73.93" lengthAdjust="spacingAndGlyphs">b</text>
<text x="135.14" y="1550.50" font-family="'Liberation Serif','DejaVu Serif',serif" font-weight="bold" font-size="133.4" textLength="48.75" lengthAdjust="spacingAndGlyphs">)</text>
<text x="817.64" y="2766.30" font-family="'Liberation Sans','DejaVu Sans',sans-serif" font-weight="bold" font-size="68" textLength="42.01" lengthAdjust="spacingAndGlyphs">Z</text>
<text x="858.86" y="2783.80" font-family="'Liberation Sans','DejaVu Sans',sans-serif" font-weight="bold" font-size="66" textLength="118.77" lengthAdjust="spacingAndGlyphs">real</text>
<text x="973.43" y="2763.20" font-family="'Liberation Sans','DejaVu Sans',sans-serif" font-weight="normal" font-size="54" textLength="17.97" lengthAdjust="spacingAndGlyphs">(</text>
<text x="992.00" y="2766.30" font-family="'Liberation Serif','DejaVu Serif',serif" font-weight="normal" font-size="65" textLength="55.27" lengthAdjust="spacingAndGlyphs">Ω</text>
<text x="1064.75" y="2766.30" font-family="'Liberation Sans','DejaVu Sans',sans-serif" font-weight="bold" font-size="68" textLength="92.27" lengthAdjust="spacingAndGlyphs">cm</text>
<text x="1157.22" y="2734.60" font-family="'Liberation Sans','DejaVu Sans',sans-serif" font-weight="bold" font-size="60" textLength="34.70" lengthAdjust="spacingAndGlyphs">2</text>
<text x="1193.90" y="2763.50" font-family="'Liberation Sans','DejaVu Sans',sans-serif" font-weight="normal" font-size="54" textLength="17.97" lengthAdjust="spacingAndGlyphs">)</text>
<text transform="rotate(-90)" x="-2222.42" y="173.00" font-family="'Liberation Sans','DejaVu Sans',sans-serif" font-weight="bold" font-size="69" textLength="37.04" lengthAdjust="spacingAndGlyphs">Z</text>
<text transform="rotate(-90)" x="-2184.60" y="192.80" font-family="'Liberation Sans','DejaVu Sans',sans-serif" font-weight="bold" font-size="66" textLength="153.27" lengthAdjust="spacingAndGlyphs">imag</text>
<text transform="rotate(-90)" x="-2029.08" y="172.70" font-family="'Liberation Sans','DejaVu Sans',sans-serif" font-weight="normal" font-size="55.5" textLength="15.33" lengthAdjust="spacingAndGlyphs">(</text>
<text transform="rotate(-90)" x="-2012.99" y="173.00" font-family="'Liberation Serif','DejaVu Serif',serif" font-weight="normal" font-size="69" textLength="53.65" lengthAdjust="spacingAndGlyphs">Ω</text>
<text transform="rotate(-90)" x="-1945.84" y="173.00" font-family="'Liberation Sans','DejaVu Sans',sans-serif" font-weight="bold" font-size="67" textLength="95.50" lengthAdjust="spacingAndGlyphs">cm</text>
<text transform="rotate(-90)" x="-1846.39" y="144.70" font-family="'Liberation Sans','DejaVu Sans',sans-serif" font-weight="bold" font-size="66" textLength="34.81" lengthAdjust="spacingAndGlyphs">2</text>
<text transform="rotate(-90)" x="-1808.65" y="172.70" font-family="'Liberation Sans','DejaVu Sans',sans-serif" font-weight="normal" font-size="55.5" textLength="15.46" lengthAdjust="spacingAndGlyphs">)</text>
</g>
</svg>
</body></html>
